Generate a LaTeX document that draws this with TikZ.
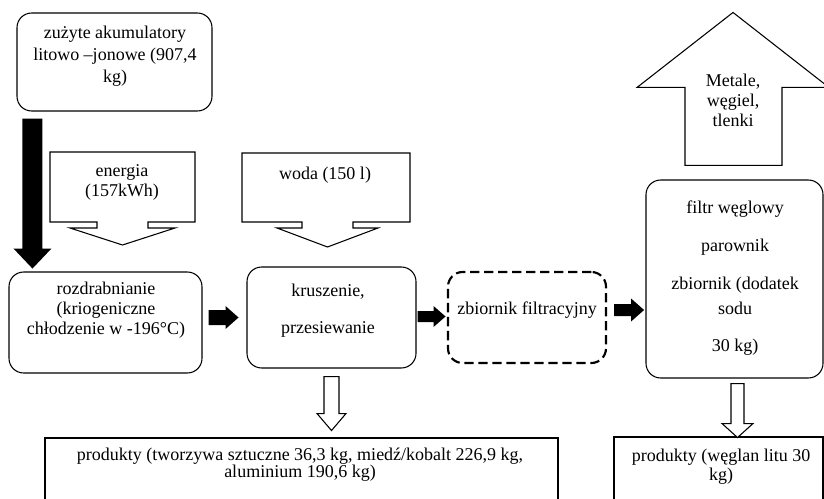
\documentclass[tikz,border=0pt]{standalone}
\usepackage{fontspec}
\setmainfont{Liberation Serif}
\usetikzlibrary{fit}

\tikzset{
  box/.style={draw, rounded corners=11pt, inner sep=0pt},
  dbox/.style={box, line width=1.6pt, dash pattern=on 7pt off 3.5pt},
  outbox/.style={draw, inner sep=0pt},
  txt/.style={align=center, inner sep=0pt},
  hollow/.style={draw, fill=white},
}

\begin{document}
\begin{tikzpicture}[x=0.75pt, y=-0.75pt, line width=0.8pt,
    font=\fontsize{13.5}{15}\selectfont]
  \clip (0,0) rectangle (824,499);

  % process boxes
  \node[box, fit={(17,13) (212,111)}] (src) {};
  \node[box, fit={(9,272) (202,373)}] (rozd) {};
  \node[box, fit={(247,267) (416,368)}] (krusz) {};
  \node[dbox, fit={(448,272) (606,363)}] (zbior) {};
  \node[box, fit={(646,180) (823,378)}] (filtr) {};
  \node[outbox, fit={(45,438) (558,530)}] (prod1) {};
  \node[outbox, fit={(614,437) (823,530)}] (prod2) {};

  \node[txt] (srcT) at (115,56) {zużyte akumulatory\\[1.5pt]litowo –jonowe (907,4\\[1.5pt]kg)};
  \node[txt] (rozdT) at (106,310) {rozdrabnianie\\(kriogeniczne\\chłodzenie w -196°C)};
  \node[txt] (kruszT) at (328,311) {kruszenie,\\[12.75pt]przesiewanie};
  \node[txt] (zbiorT) at (527,310) {zbiornik filtracyjny};
  \node[txt] (filtrT) at (735,278) {filtr węglowy\\[13.5pt]parownik\\[14pt]zbiornik (dodatek\\[3.75pt]sodu\\[12.75pt]30 kg)};
  \node[txt] (prod1T) at (300,465) {produkty (tworzywa sztuczne 36,3 kg, miedź/kobalt 226,9 kg,\\[-2.5pt]aluminium 190,6 kg)};
  \node[txt] (prod2T) at (721,467) {produkty (węglan litu 30\\[-0.75pt]kg)};

  % inputs
  \draw[hollow] (50,152) -- (195,152) -- (195,222) -- (148,222) -- (148,228) -- (175,228)
    -- (122.5,245) -- (70,228) -- (97,228) -- (97,222) -- (50,222) -- cycle;
  \node[txt] (energia) at (122,182) {energia\\(157kWh)};
  \draw[hollow] (242,153) -- (410,153) -- (410,222) -- (353,222) -- (353,228) -- (378,228)
    -- (327.5,247) -- (277,228) -- (302,228) -- (302,222) -- (242,222) -- cycle;
  \node[txt] (woda) at (325,175) {woda (150 l)};

  % output up
  \draw[hollow] ([shift={(-49.5,-14)}]filtr.north) -- ++(0,-78) -- ++(-48,0) -- ++(96,-75)
    -- ++(96,75) -- ++(-47,0) -- ++(0,78) -- cycle;
  \node[txt] (metale) at (733,100) {Metale,\\węgiel,\\tlenki};

  % flow arrows
  \fill ([shift={(6,7)}]src.south west) -- ++(20,0) -- ++(0,130) -- ++(9,0) -- ++(-19,20)
    -- ++(-19,-20) -- ++(9,0) -- cycle;
  \fill ([shift={(6,-5)}]rozd.east) ++(0,-7.5) -- ++(17,0) -- ++(0,-4) -- ++(13,11.5)
    -- ++(-13,11.5) -- ++(0,-4) -- ++(-17,0) -- cycle;
  \fill ([shift={(1,-1)}]krusz.east) ++(0,-5.5) -- ++(16,0) -- ++(0,-5) -- ++(12,10.5)
    -- ++(-12,10.5) -- ++(0,-5) -- ++(-16,0) -- cycle;
  \fill ([shift={(7,-7.5)}]zbior.east) ++(0,-6) -- ++(17,0) -- ++(0,-5.5) -- ++(13,11.5)
    -- ++(-13,11.5) -- ++(0,-5.5) -- ++(-17,0) -- cycle;

  % products
  \draw[hollow] ([shift={(-7.5,8)}]krusz.south) -- ++(15,0) -- ++(0,37) -- ++(7,0)
    -- ++(-14.5,17) -- ++(-14.5,-17) -- ++(7,0) -- cycle;
  \draw[hollow] ([shift={(-3.5,5)}]filtr.south) -- ++(13,0) -- ++(0,40) -- ++(9,0)
    -- ++(-15.5,14) -- ++(-15.5,-14) -- ++(9,0) -- cycle;
\end{tikzpicture}
\end{document}
